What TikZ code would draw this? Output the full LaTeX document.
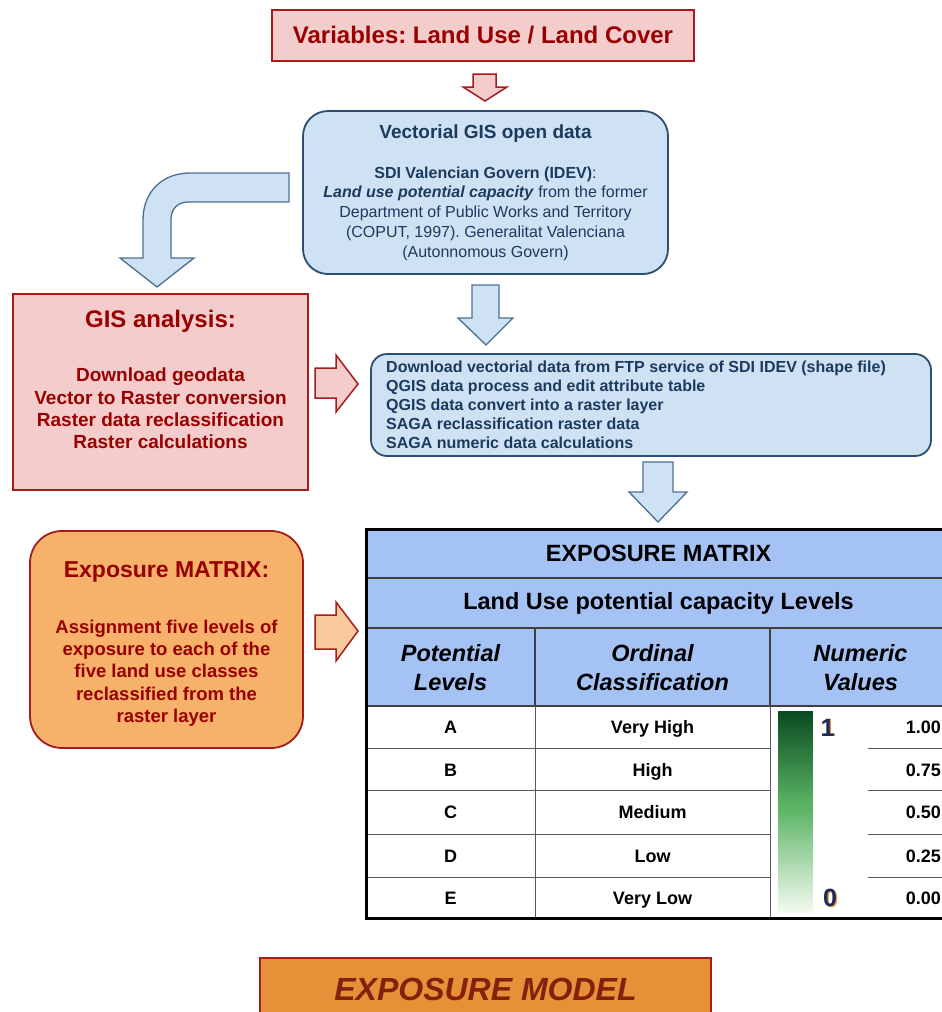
\documentclass[tikz,border=0pt]{standalone}
\usepackage{fontspec}
\setmainfont{Liberation Sans}
\frenchspacing
\definecolor{pinkfill}{HTML}{F4CCCC}
\definecolor{redline}{HTML}{A61C1C}
\definecolor{redtext}{HTML}{990000}
\definecolor{bluefill}{HTML}{CFE2F3}
\definecolor{blueline}{HTML}{2B4E72}
\definecolor{bluetext}{HTML}{1C3A5E}
\definecolor{arrowline}{HTML}{4B6E93}
\definecolor{orangefill}{HTML}{F6B26B}
\definecolor{orangearrow}{HTML}{F9CB9C}
\definecolor{tablefill}{HTML}{A4C2F4}
\definecolor{modelfill}{HTML}{E69138}
\definecolor{modeltext}{HTML}{85200C}
\definecolor{gtop}{HTML}{0A4B22}
\definecolor{gmid}{HTML}{5BB464}
\definecolor{gbot}{HTML}{F0F9EE}
\definecolor{numnavy}{HTML}{1E2A5C}
\definecolor{numhalo}{HTML}{E8952E}
\newcommand{\fs}[2]{\fontsize{#1}{#2}\selectfont}
\tikzset{
  redbox/.style={draw=redline, line width=2pt, fill=pinkfill, inner sep=0pt},
  bluebox/.style={draw=blueline, line width=1.8pt, fill=bluefill, inner sep=0pt},
  orangebox/.style={draw=redline, line width=1.8pt, fill=orangefill, inner sep=0pt, rounded corners=32pt},
  modelbox/.style={draw=redline, line width=1.5pt, fill=modelfill, inner sep=0pt},
  redarrow/.style={draw=redline, line width=1.5pt, fill=pinkfill, line join=miter},
  bluearrow/.style={draw=arrowline, line width=1.3pt, fill=bluefill, line join=miter},
  orangearrowst/.style={draw=redline, line width=1.5pt, fill=orangearrow, line join=miter},
  redtxt/.style={text=redtext, font=\bfseries, inner sep=0pt},
  bluetxt/.style={text=bluetext, inner sep=0pt},
  celltxt/.style={text=black, inner sep=0pt, font=\fs{18}{21}\bfseries, text height=13pt, text depth=4pt},
  headtxt/.style={text=black, inner sep=0pt, align=center, font=\fs{23.5}{29}\bfseries\itshape},
  gridline/.style={draw=black!65, line width=1pt},
  darkline/.style={draw=black!75, line width=1.6pt},
  numtxt/.style={inner sep=0pt, font=\fs{25}{28}\bfseries, text height=18pt, text depth=0pt},
}
\begin{document}
\begin{tikzpicture}[x=1pt,y=-1pt]
\useasboundingbox (0,0) rectangle (942,1012);
\clip (0,0) rectangle (942,1012);

% top box
\node[redbox, minimum width=422pt, minimum height=51pt] (vars) at (483,35.5) {};
\node[redtxt, font=\fs{24}{28}\bfseries] (varstxt) at (vars.center) {Variables: Land Use / Land Cover};

% small red arrow
\draw[redarrow] (473,74) -- (496,74) -- (496,87) -- (507,87) -- (485,101) -- (463,87) -- (473,87) -- cycle;

% blue box 1
\node[bluebox, rounded corners=25pt, minimum width=365pt, minimum height=163pt] (idev) at (485.5,192.5) {};
\node[bluetxt, font=\fs{19}{22}\bfseries] (idevtitle) at (485.5,134) {Vectorial GIS open data};
\node[bluetxt, align=center, font=\fs{16}{19.8}] (idevbody) at (485.5,213.5)
 {\textbf{SDI Valencian Govern (IDEV)}:\\
  \textbf{\textit{Land use potential capacity}} from the former\\
  Department of Public Works and Territory\\
  (COPUT, 1997). Generalitat Valenciana\\
  (Autonnomous Govern)};

% curved blue arrow
\draw[bluearrow] (289,173) -- (190,173) .. controls (162,173) and (143,192) .. (143,220)
  -- (143,258) -- (120,258) -- (157,287) -- (194,258) -- (171,258) -- (171,219)
  .. controls (171,209) and (178,202) .. (188,202) -- (289,202) -- cycle;

% blue arrow down 1
\draw[bluearrow] (472,285) -- (499,285) -- (499,318) -- (513,318) -- (486,345) -- (458,318) -- (472,318) -- cycle;

% GIS analysis box
\node[redbox, minimum width=295pt, minimum height=196pt] (gis) at (160.5,392) {};
\node[redtxt, font=\fs{24}{28}\bfseries] (gistitle) at (160.5,321) {GIS analysis:};
\node[redtxt, align=center, font=\fs{19}{22.4}\bfseries] (gisbody) at (160.5,408.5)
 {Download geodata\\Vector to Raster conversion\\Raster data reclassification\\Raster calculations};

% red arrow right
\draw[redarrow] (315,368) -- (336,368) -- (336,355) -- (358,384) -- (336,412) -- (336,398) -- (315,398) -- cycle;

% blue box 2
\node[bluebox, rounded corners=16pt, minimum width=560pt, minimum height=102pt] (steps) at (651,405) {};
\node[bluetxt, anchor=west, align=left, font=\fs{16}{19}\bfseries] (stepstxt) at (386,404.5)
 {Download vectorial data from FTP service of SDI IDEV (shape file)\\
  QGIS data process and edit attribute table\\
  QGIS data convert into a raster layer\\
  SAGA reclassification raster data\\
  SAGA numeric data calculations};

% blue arrow down 2
\draw[bluearrow] (643,462) -- (673,462) -- (673,492) -- (687,492) -- (658,522) -- (629,492) -- (643,492) -- cycle;

% orange box
\node[orangebox, minimum width=273pt, minimum height=217pt] (expo) at (166.5,639.5) {};
\node[redtxt, font=\fs{23}{27}\bfseries] (expotitle) at (166.5,572) {Exposure MATRIX:};
\node[redtxt, align=center, font=\fs{18.5}{22.3}\bfseries] (expobody) at (166.5,673) {Assignment five levels of\\exposure to each of the\\five land use classes\\reclassified from the\\raster layer};

% orange arrow right
\draw[orangearrowst] (315,615) -- (336,615) -- (336,602) -- (358,631) -- (336,661) -- (336,649) -- (315,649) -- cycle;

% table
\fill[tablefill] (366,529) rectangle (951,706);
\fill[white] (366,706) rectangle (951,918);
\draw[darkline] (366,578) -- (951,578);
\draw[darkline] (366,628) -- (951,628);
\draw[darkline] (366,706) -- (951,706);
\draw[darkline] (535,628) -- (535,706);
\draw[darkline] (770,628) -- (770,706);
\draw[gridline] (535,706) -- (535,918);
\draw[gridline] (770,706) -- (770,918);
\foreach \yy in {748,790,834,877} {
  \draw[gridline] (366,\yy) -- (535,\yy);
  \draw[gridline] (535,\yy) -- (770,\yy);
  \draw[gridline] (868,\yy) -- (951,\yy);
}
\draw[draw=black, line width=3pt] (366,529) rectangle (951,918);

\node[text=black, inner sep=0pt, font=\fs{23.5}{28}\bfseries] (mtitle) at (658.5,553) {EXPOSURE MATRIX};
\node[text=black, inner sep=0pt, font=\fs{23.5}{28}\bfseries] (msub) at (658.5,603) {Land Use potential capacity Levels};
\node[headtxt] (h1) at (450.5,667.5) {Potential\\Levels};
\node[headtxt] (h2) at (652.5,667.5) {Ordinal\\Classification};
\node[headtxt] (h3) at (860.5,667.5) {Numeric\\Values};

\node[celltxt] (a1) at (450.5,729) {A};
\node[celltxt] (b1) at (450.5,771.5) {B};
\node[celltxt] (c1) at (450.5,814) {C};
\node[celltxt] (d1) at (450.5,857.5) {D};
\node[celltxt] (e1) at (450.5,899.5) {E};
\node[celltxt] (a2) at (652.5,729) {Very High};
\node[celltxt] (b2) at (652.5,771.5) {High};
\node[celltxt] (c2) at (652.5,814) {Medium};
\node[celltxt] (d2) at (652.5,857.5) {Low};
\node[celltxt] (e2) at (652.5,899.5) {Very Low};
\node[celltxt, anchor=east] (a3) at (941,729) {1.00};
\node[celltxt, anchor=east] (b3) at (941,771.5) {0.75};
\node[celltxt, anchor=east] (c3) at (941,814) {0.50};
\node[celltxt, anchor=east] (d3) at (941,857.5) {0.25};
\node[celltxt, anchor=east] (e3) at (941,899.5) {0.00};

% gradient legend, drawn as strips
\foreach \i in {0,...,29} {
  \pgfmathsetmacro\p{\i*100/29}
  \fill[gmid!\p!gtop] (778,{711+\i*3.2}) rectangle (813,{711+(\i+1)*3.2+0.6});
}
\foreach \i in {0,...,34} {
  \pgfmathsetmacro\p{\i*100/34}
  \fill[gbot!\p!gmid] (778,{807+\i*3.0}) rectangle (813,{807+(\i+1)*3.0+0.6});
}
\node[numtxt, text=numhalo] (oneh) at (828.8,727.8) {1};
\node[numtxt, text=numnavy] (one) at (827.5,727) {1};
\node[numtxt, text=numhalo] (zeroh) at (831.3,898.3) {0};
\node[numtxt, text=numnavy] (zero) at (830,897.5) {0};

% exposure model box
\node[modelbox, minimum width=451pt, minimum height=80pt] (model) at (485.5,998) {};
\node[text=modeltext, inner sep=0pt, font=\fs{32}{36}\bfseries\itshape] (modeltxt) at (485.5,989) {EXPOSURE MODEL};
\end{tikzpicture}
\end{document}
